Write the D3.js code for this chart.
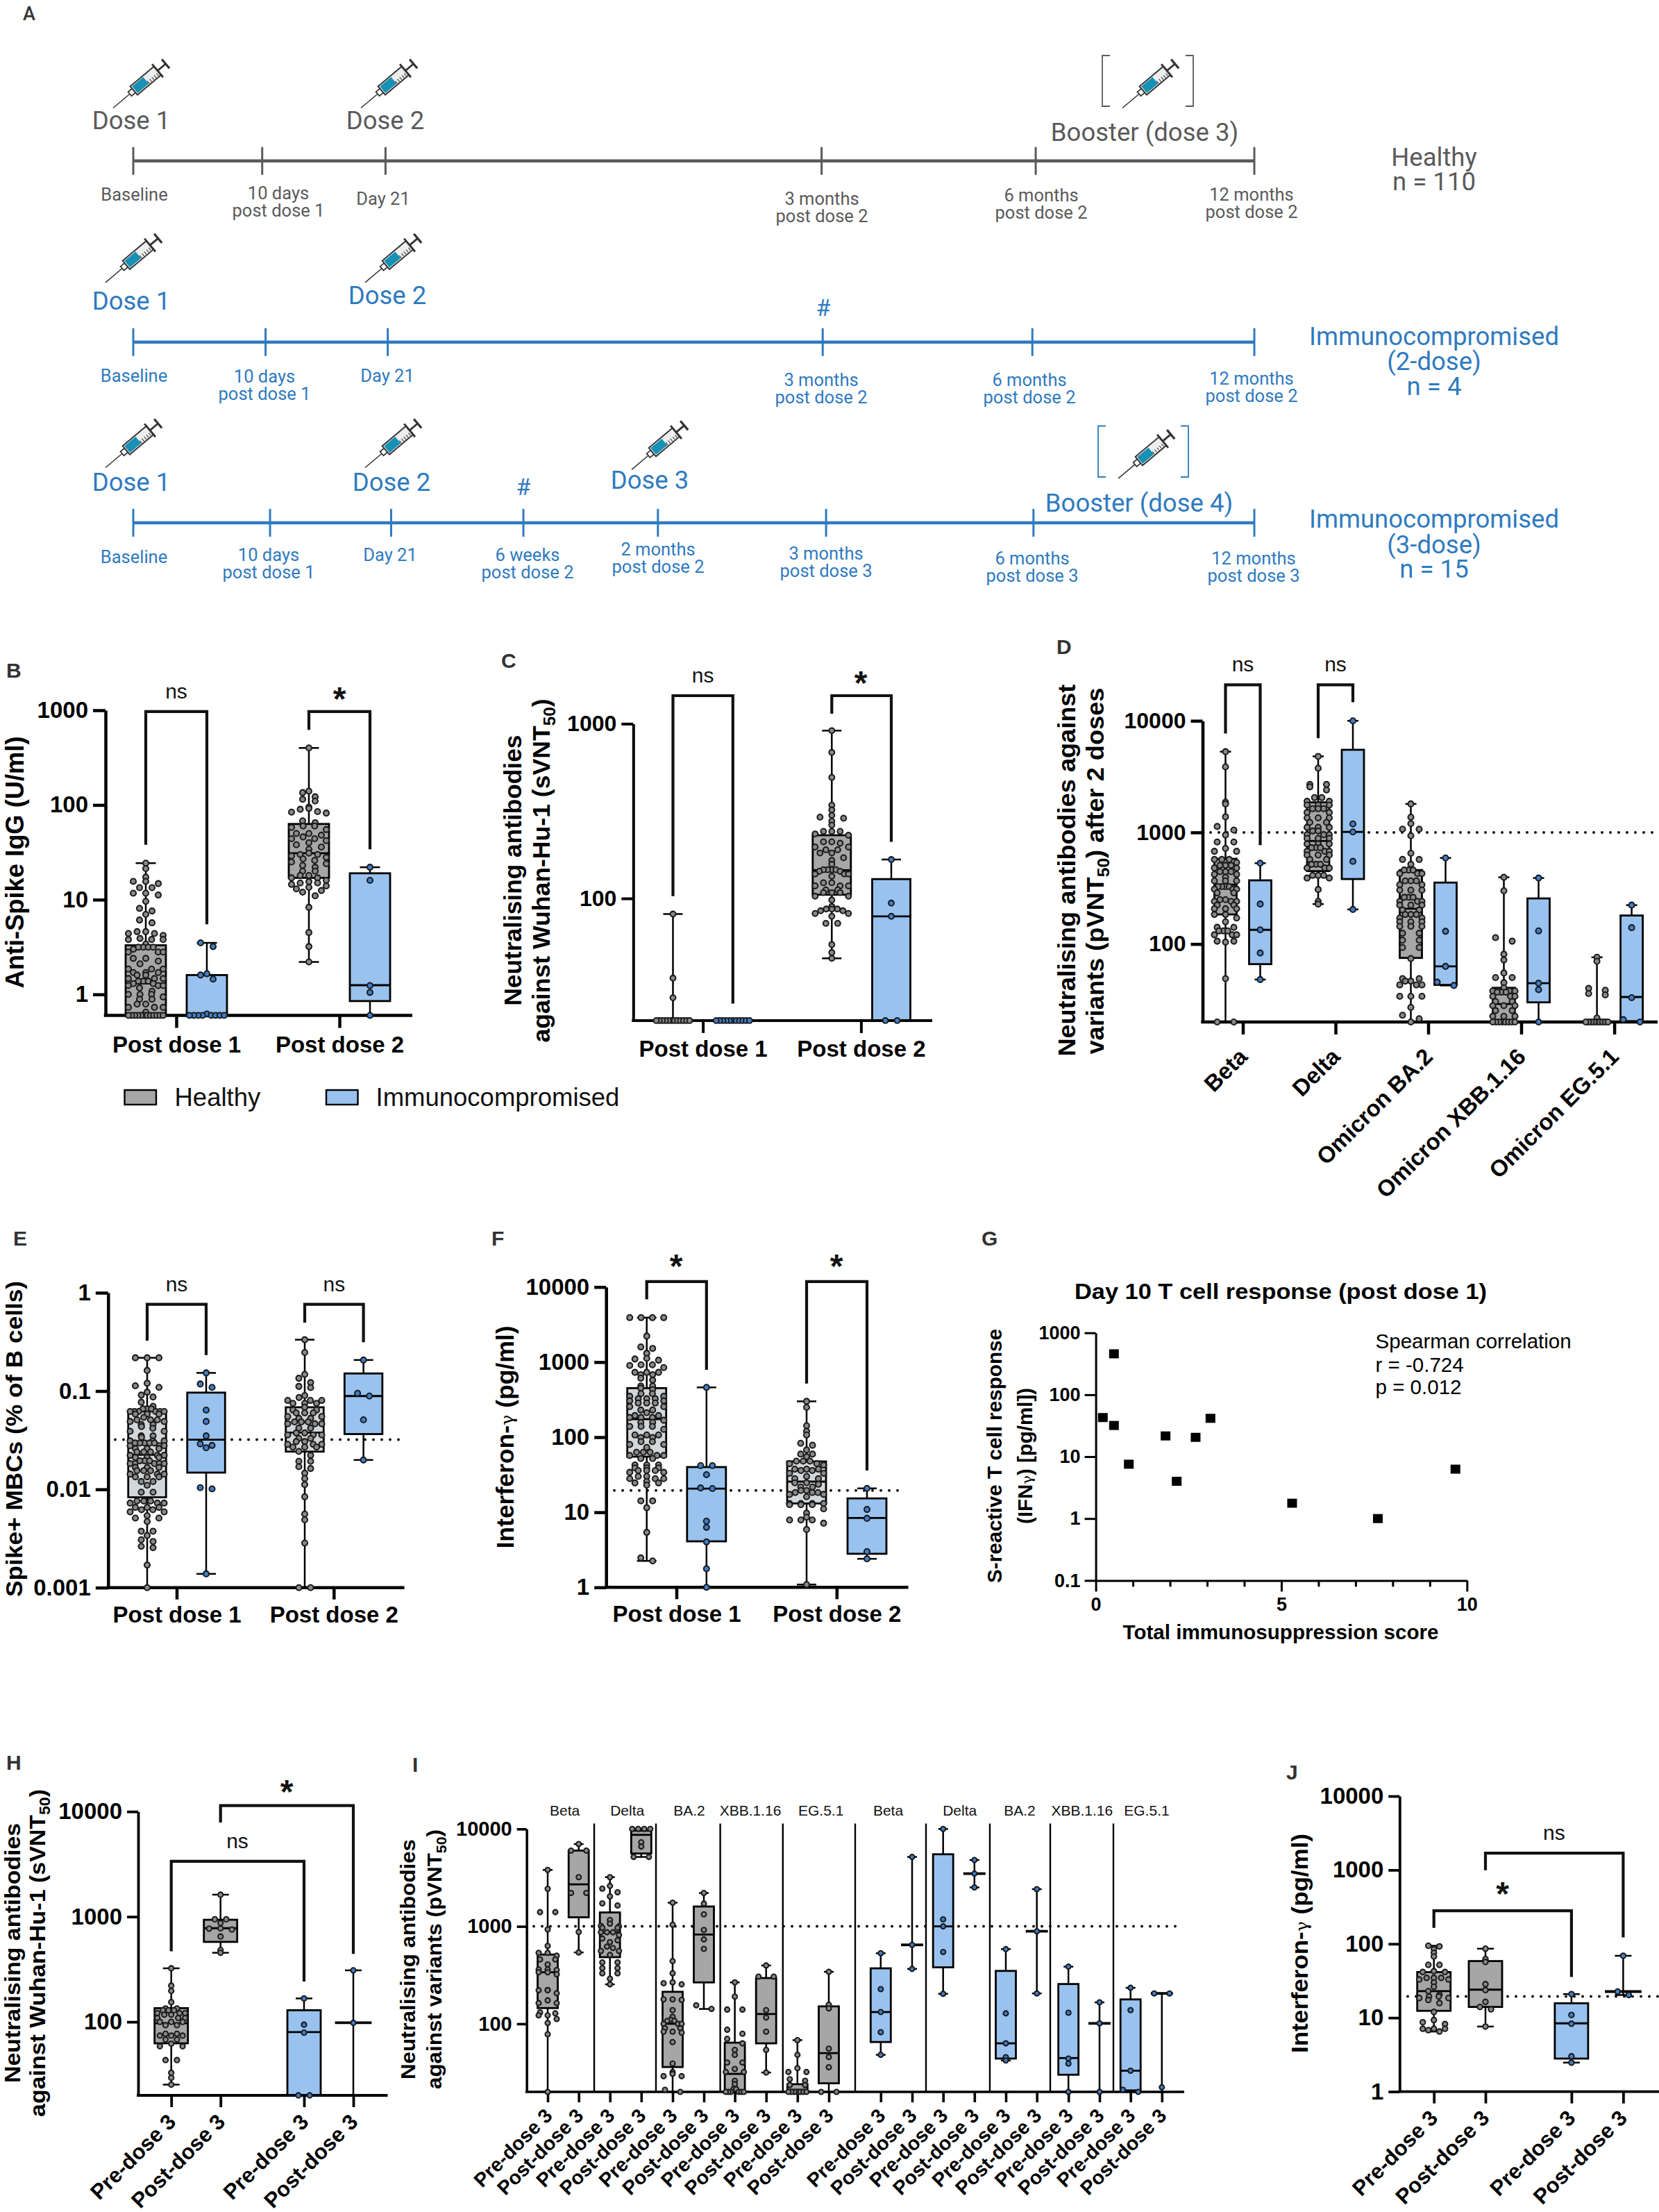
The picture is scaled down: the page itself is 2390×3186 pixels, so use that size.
<!DOCTYPE html>
<html><head><meta charset="utf-8">
<script src="https://cdn.jsdelivr.net/npm/d3@7"></script>
<style>html,body{margin:0;padding:0;background:#fff}svg{display:block}</style></head>
<body><svg id="c" width="2390" height="3186" xmlns="http://www.w3.org/2000/svg"></svg>
<script>
// ---------- DATA ----------
// Panel B: Anti-Spike IgG
const bH1=[24.3,21.3,17.3,15.6,15.6,14.8,13.4,13.4,11.7,11.7,11.2,9.6,8.1,7.6,7,6.1,5.7,4.6,4.6,4.4,4.4,4.2,3.9,3.8,3.8,3.8,3.4,3.15,3.15,3.15,3.15,3,2.8,2.8,2.8,2.4,2.4,2.25,2.1,1.85,1.85,1.85,1.7,1.7,1.7,1.6,1.6,1.47,1.47,1.47,1.38,1.38,1.38,1.3,1.3,1.24,1.24,1.24,1.17,1.08,1,1,1,.94,.89,.89,.79,.79,.73,.73,.73,.65,.6,.6,.6,.6,.6,.6,.6,.6,.6,.6,.6,.6];
const bI1=[3.5,3.2,1.65,1.6,1.45,.62,.6,.6,.6,.6,.6,.6,.6,.6];
const bH2=[400,140,135,122,115,110,95,92,90,85,84,82,68,65,60,60,58,55,50,50,48,46,44,44,42,40,38,36,34,31,30,30,29,28,27,26,25,24,23,22,20,20,18,18,17,17,16,15.5,15,15,14.5,14,13.5,13,12.5,12,11,8.3,4.5,3.2,2.2];
const bI2=[22,16,1.24,1.05,.6];
const bBoxes=[[.6,.6,1.3,3.3,24.3],[.6,.6,.6,1.6,3.5],[2.2,17,31,63,400],[.6,.85,1.25,19,22]];
// Panel C: sVNT50
const cH1=[81.4,35,27,20,20,20,20,20,20,20,20,20,20,20,20];
const cI1=[20,20,20,20,20,20,20,20,20,20,20];
const cH2=[913,685,493,342,321,299,292,288,277,263,242,242,242,234,230,211,211,207,197,197,190,190,182,182,171,165,157,146,146,146,146,143,143,138,138,138,134,123,123,118,118,118,112,112,108,108,108,103,103,98,90,87,87,87,85,85,82,82,79,72,72,54.4,49,45.4];
const cI2=[167,94,79,20,20];
const cBoxes=[[20,20,20,20,81.4],[20,20,20,20,20],[45.4,105,145,230,913],[20,20,79,129,167]];
// Panel D: pVNT50 after 2 doses
const dBetaH=[5290,3870,1870,1800,1380,1130,1050,948,820,820,719,677,677,572,572,572,538,507,507,507,480,480,445,445,445,421,421,397,368,368,368,327,327,327,327,310,310,310,287,287,250,250,241,241,241,223,223,207,207,207,184,184,171,158,141,141,131,131,131,121,121,121,106,106,104,49,20,20];
const dBetaI=[530,228,134,83,48];
const dDeltaH=[4800,3760,2690,2690,2560,2400,2050,2050,1900,1900,1760,1760,1760,1630,1630,1630,1510,1510,1350,1350,1350,1230,1230,1110,1110,1110,1030,1030,955,955,955,885,885,885,790,790,790,730,730,730,677,677,677,627,627,627,572,572,518,518,518,480,480,480,412,412,412,390,390,308,241,228];
const dDeltaI=[10000,1190,1010,550,204];
const dBa2H=[1800,1370,1200,1070,1070,933,650,572,572,518,460,460,460,428,428,428,368,368,368,340,340,304,304,304,262,262,262,241,241,241,223,223,223,202,202,184,184,184,171,171,158,158,158,144,144,144,125,125,108,108,93,93,74,49,49,46.5,46.5,43,43,43,34,34,34,27,23,21.4,20];
const dBa2I=[590,130,63,45.5,42.5];
const dXbbH=[396,300,114,106,81,72,55,50,50,45,40.5,38,38,38,38,37,37,37,34,34,34,30.5,30.5,28,28,28,25.3,25.3,22.5,22.5,22.5,20,20,20,20,20,20,20,20];
const dXbbI=[390,131,44.5,39,20];
const dEgH=[76,70,40,38.5,36,35,21.7,20,20,20,20,20,20,20,20,20];
const dEgI=[223,140,33,21,20];
const dBoxes=[[20,184,340,580,5290],[48,66,134,372,530],[228,450,838,1860,4800],[204,382,1010,5500,10000],[20,75,207,460,1800],[42.5,43,63,355,590],[20,20,29,40.5,396],[20,30,44.5,256,390],[20,20,20,20,76],[20,20.3,33.5,180,223]];
// Panel E: Spike+ MBCs
const eH1=[.218,.218,.218,.162,.12,.113,.109,.0975,.091,.087,.077,.07,.066,.066,.066,.062,.062,.062,.062,.062,.062,.0584,.0584,.0584,.054,.051,.051,.051,.049,.049,.0456,.0456,.0435,.0418,.039,.039,.035,.035,.0338,.0311,.0311,.0311,.0296,.0296,.0296,.0296,.0296,.0278,.0278,.0278,.026,.026,.026,.024,.024,.024,.0222,.0222,.0222,.0211,.0211,.0211,.0195,.0195,.0195,.0183,.0183,.0183,.0183,.0183,.0167,.0167,.0167,.0155,.0155,.0155,.0143,.0143,.0143,.0134,.0134,.0134,.012,.012,.011,.00935,.00935,.0076,.0076,.0076,.00725,.00725,.00725,.00655,.00655,.00655,.0062,.0062,.0059,.0059,.0054,.0051,.0051,.0047,.00375,.00375,.00339,.00307,.00295,.00263,.00255,.0017,.001];
const eI1=[.153,.118,.109,.064,.049,.035,.029,.028,.0265,.0104,.0101,.00138];
const eH2=[.333,.247,.148,.135,.122,.1115,.1086,.09,.086,.0803,.0803,.0803,.075,.075,.075,.0684,.0642,.0642,.06,.06,.06,.055,.055,.0528,.0528,.0486,.0486,.0486,.0465,.0465,.0465,.042,.042,.0375,.0375,.0358,.0358,.0358,.033,.033,.0306,.0306,.0287,.0287,.0287,.0269,.0269,.0269,.0243,.0222,.0193,.0193,.017,.0163,.0146,.0129,.0112,.0084,.0056,.0049,.00284,.001,.001];
const eI2=[.207,.095,.089,.051,.0199];
const eBoxes=[[.001,.0083,.0225,.062,.218],[.00138,.0148,.032,.0964,.153],[.001,.0242,.0378,.0684,.333],[.0199,.0365,.089,.151,.207]];
// Panel F: Interferon-gamma
const fH1=[3910,3910,3910,3910,2220,1590,1520,1310,1120,1100,1060,920,920,900,845,730,730,730,680,680,610,575,480,480,450,430,380,380,350,350,325,325,325,305,305,285,285,285,255,255,230,230,212,194,194,183,183,183,168,157,157,139,139,139,127,107,107,107,99,99,87,87,80,80,73,63,63,63,57,57,57,52,52,42.7,42.7,42.7,39,39,39,36,36,36,34,34,30,30,28,28,28,25.7,24.6,24.6,23,14.2,14.2,11.5,5.4,2.47,2.25];
const fI1=[460,41.8,41.8,31.7,21.1,20.7,7.6,6.3,4.03,1.77,1];
const fH2=[300,250,142,120,107,83,78,67.6,59.5,59.5,55,48,48,48,44.4,44.4,42.6,37.5,37.5,37.5,36,36,33,33,30,28,28,24.7,24.7,23.6,21.7,21.7,19.5,19.5,18.3,18.3,18.3,17.3,17.3,16.1,13.1,13.1,13.1,13.1,12.6,12.6,12.6,11.1,9.75,8.6,7.9,7.9,7.9,7.15,5.9,1.09];
const fI2=[20.8,10.9,8.3,3,2.4];
const fBoxes=[[2.25,55,174,450,3910],[1,4.1,20.6,40,460],[1.09,13.1,25.6,47.5,300],[2.4,2.8,8.4,15.3,20.8]];
// Panel G: scatter
const gScore=[.19,.49,.49,.89,1.88,2.18,2.69,3.09,5.29,7.6,9.69];
const gIfn=[42.8,458,31.9,7.55,21.6,4,20.5,41.6,1.77,1,6.28];
// Panel H
const hH1=[323,221,197,154,134,134,129,129,129,121,121,121,117,117,109,109,109,100,100,100,93,93,77,77,74,74,74,68,68,62,58.6,58.6,43.3,43.3,32.8,29.4,25.3];
const hH2=[1620,945,945,870,775,770,755,648,482,454];
const hI1=[167,94,79,20,20];
const hI2=[309,98];
const hBoxes=[[25.3,62.5,97,135,323],[454,576,777,935,1620],[20,20,80,129,167],[20,98,98,98,309]];
// Panel I
const iBetaPreH=[3800,2430,1400,1400,930,630,535,535,500,458,458,406,361,361,356,338,338,322,222,221,221,206,174,163,163,131,128,122,122,112,102,78,20];
const iBetaPostH=[7000,6000,6000,3200,2200,2200,875,540];
const iDeltaPreH=[3200,2600,2440,2240,2030,1720,1640,1160,1065,1010,1000,965,965,870,870,870,814,750,720,690,620,600,560,560,510,427,427,373,373,330,330,290,254];
const iDeltaPostH=[10000,10000,10000,10000,7300,6600,5160,5160];
const iBa2PreH=[1750,1040,440,330,266,261,254,178,178,176,138,118,110,107,107,100,100,100,90,90,83,83,81,65,39,32,30.6,29,29,21,20];
const iBa2PostH=[2200,1710,1330,920,735,588,155,142];
const iXbbPreH=[266,190,140,140,87,79,70,63,54,48,40,40,34.4,32,32,26,24,21.4,21.4,20,20,20,20,20,20];
const iXbbPostH=[397,305,305,138,116,83,54,31.6];
const iEgPreH=[68,48,35,32,32,27,26,23.5,23.5,20,20,20,20,20,20,20];
const iEgPostH=[342,157,144,55.5,45.6,35.8,20,20];
const iBetaPreI=[530,227,132,82,48];
const iBetaPostI=[5160,646,366];
const iDeltaPreI=[10000,1180,1000,546,203];
const iDeltaPostI=[4800,3480,2510];
const iBa2PreI=[584,128,63,45.4,42];
const iBa2PostI=[2410,890,205];
const iXbbPreI=[386,130,44,39,20];
const iXbbPostI=[166,101,20];
const iEgPreI=[234,138,33,21,20];
const iEgPostI=[205,205,22.3];
const iBoxes=[[20,145,338,514,3800],[540,1240,2700,6000,7000],[254,483,870,1390,3200],[5160,5600,8700,9600,10000],[20,36,100,213,1750],[142,266,825,1600,2200],[20,20,30.6,64,266],[31.6,63,126,295,397],[20,20,21,24,68],[20,24.5,50,151,342],
 [48,65,132,371,530],[366,646,646,646,5160],[203,380,1000,5500,10000],[2510,3480,3480,3480,4800],[42,44,63,349,584],[205,890,890,890,2410],[20,30,44.5,256,386],[20,101,101,101,166],[20,20.7,33,178,234],[20,205,205,205,205]];
const iVariants=['Beta','Delta','BA.2','XBB.1.16','EG.5.1','Beta','Delta','BA.2','XBB.1.16','EG.5.1'];
// Panel J
const jH1=[94.3,92.5,85,75.6,67.6,52,52,42.7,41.6,41.6,34.6,34.6,34.6,33,33,30,26.3,22.9,20.5,19.4,19.4,18.5,18.5,17.4,15.8,12,9.3,8.7,8.2,7.1,7.1,7.1,6.8,6.5];
const jH2=[86,62.3,56.9,28.5,23.7,16.4,14,13,7.6];
const jI1=[20.9,10.9,8.3,3,2.47];
const jI2=[69,22.6,20.3];
const jBoxes=[[6.5,12.4,22.9,41.5,94.3],[7.6,14,24,58.5,86],[2.47,2.8,8.4,15.7,20.9],[20.3,22.6,22.6,22.6,69]];
// Shared axis labels
const postDoseLabels=['Post dose 1','Post dose 2'];
const dVariantLabels=['Beta','Delta','Omicron BA.2','Omicron XBB.1.16','Omicron EG.5.1'];
const prePost=['Pre-dose 3','Post-dose 3'];
const legendLabels=['Healthy','Immunocompromised'];
// Timeline points (schematic units 0-100 along the 12-month bar)
const tlRow1=[0,11.5,22.5,61.4,80.5,100];
const tlRow2=[0,11.8,22.7,61.5,80.2,100];
const tlRow3=[0,12.2,23,34.8,46.8,61.8,80.3,100];

// ---------- DRAWING ----------
const svg=d3.select('#c');
const SANS='"Liberation Sans",Arial,sans-serif', ROB='Roboto,sans-serif';
const COL={H:{box:'#a6a6a6',dot:'#8a8a8a'},L:{box:'#d4d7da',dot:'#8a8a8a'},I:{box:'#99c2ee',dot:'#3f7fcf'}};

function swarm(vals,y,o){
  const bins=d3.groups(vals,v=>Math.round(y(v)/o.bin));
  const out=[];
  bins.forEach(([k,arr])=>{
    const n=arr.length, s=n>1?Math.min(2*o.step,2*o.max/(n-1)):0, offs=[];
    if(n%2){offs.push(0);for(let i=1;i<=(n-1)/2;i++){offs.push(-i*s);offs.push(i*s);}}
    else for(let i=1;i<=n/2;i++){offs.push(-(i-.5)*s);offs.push((i-.5)*s);}
    arr.forEach((v,i)=>out.push({v,off:offs[i]}));
  });
  return out;
}
function sub(t,parts,size){ // parts: plain text pieces, subscripts as {s:'50'}
  let pend=0;
  parts.forEach(p=>{
    if(typeof p==='string'){const ts=t.append('tspan').text(p); if(pend){ts.attr('dy',pend);pend=0;}}
    else if(p.s){t.append('tspan').attr('font-size',size*.68).attr('dy',size*.22).text(p.s); pend=-size*.22;}
    else if(p.g) t.append('tspan').attr('font-weight','400').attr('font-family','"DejaVu Serif",serif').attr('font-size',size*.72).text(p.g);
  });
}
function yLabel(parts,bx,cy,size,len){
  const t=svg.append('text').attr('transform',`translate(${bx},${cy}) rotate(-90)`).attr('text-anchor','middle')
    .attr('font-family',SANS).attr('font-weight','700').attr('font-size',size).attr('fill','#000');
  sub(t,parts,size);
  if(len) t.attr('textLength',len).attr('lengthAdjust','spacingAndGlyphs');
}
function letter(s,x,y){svg.append('text').attr('x',x).attr('y',y).attr('font-family',SANS).attr('font-weight','700').attr('font-size',30).attr('fill','#333').text(s);}

function panel(p){
  const y=d3.scaleLog().domain([p.floor,p.top]).range([p.yFloor,p.yTop]);
  const x=d3.scaleOrdinal().domain(p.ids).range(p.xs);
  const tx=d3.scaleOrdinal().domain(p.tickIds).range(p.tickXs);
  const g=svg.append('g');
  // dotted reference
  if(p.ref) g.append('line').attr('x1',p.ref[1]).attr('x2',p.ref[2]).attr('y1',y(p.ref[0])).attr('y2',y(p.ref[0]))
    .attr('stroke','#111').attr('stroke-width',4).attr('stroke-linecap','round').attr('stroke-dasharray',`0 ${p.refGap||12}`);
  // boxes
  p.ids.forEach((id,i)=>{
    const c=COL[p.kinds[i]], b=p.boxes[i], cx=x(id), w=p.boxW, sw=p.boxSW||2.8;
    const bg=g.append('g').attr('stroke','#000').attr('fill','none');
    bg.append('line').attr('x1',cx).attr('x2',cx).attr('y1',y(b[0])).attr('y2',y(b[4])).attr('stroke-width',2.5);
    [b[0],b[4]].forEach(v=>bg.append('line').attr('x1',cx-p.cap).attr('x2',cx+p.cap).attr('y1',y(v)).attr('y2',y(v)).attr('stroke-width',2.5));
    if(b[1]===b[3]){
      if(b[2]!==p.floor) bg.append('line').attr('x1',cx-w*.55).attr('x2',cx+w*.55).attr('y1',y(b[2])).attr('y2',y(b[2])).attr('stroke-width',3.8);
    } else {
      bg.append('rect').attr('x',cx-w/2).attr('width',w).attr('y',y(b[3])).attr('height',y(b[1])-y(b[3])).attr('fill',c.box).attr('stroke-width',sw);
      bg.append('line').attr('x1',cx-w/2).attr('x2',cx+w/2).attr('y1',y(b[2])).attr('y2',y(b[2])).attr('stroke-width',sw);
    }
  });
  // axes
  const sw=p.axisSW;
  const ya=g.append('g').attr('transform',`translate(${p.axisX},0)`)
    .call(d3.axisLeft(y).tickValues(p.yTicks).tickFormat(d=>String(d)).tickSize(p.tickL).tickSizeOuter(0).tickPadding(p.tickPad||7));
  ya.select('.domain').attr('stroke','#000').attr('stroke-width',sw);
  ya.selectAll('.tick line').attr('stroke','#000').attr('stroke-width',sw);
  ya.selectAll('text').attr('font-family',SANS).attr('font-weight','700').attr('font-size',p.tickFont).attr('fill','#000');
  g.append('line').attr('x1',p.axisX-sw/2).attr('x2',p.xEnd).attr('y1',p.yFloor).attr('y2',p.yFloor).attr('stroke','#000').attr('stroke-width',sw);
  const xa=g.append('g').attr('transform',`translate(0,${p.yFloor})`)
    .call(d3.axisBottom(tx).tickValues(p.tickIds).tickFormat((d,i)=>p.tickLabels[i]).tickSize(p.xTickL).tickSizeOuter(0));
  xa.select('.domain').remove();
  xa.selectAll('.tick line').attr('stroke','#000').attr('stroke-width',sw);
  const xt=xa.selectAll('text').attr('font-family',SANS).attr('font-weight','700').attr('font-size',p.xFont).attr('fill','#000');
  if(p.rot){
    xt.attr('text-anchor','end').attr('y',0).attr('dy',0).attr('transform',`translate(${p.rot[0]},${p.rot[1]}) rotate(-45)`);
  } else xt.attr('y',p.xBase).attr('dy',0);
  // dots
  p.ids.forEach((id,i)=>{
    const c=COL[p.kinds[i]];
    g.append('g').selectAll('circle').data(swarm(p.series[i],y,p.swarm)).join('circle')
      .attr('cx',d=>x(id)+d.off).attr('cy',d=>y(d.v)).attr('r',p.r).attr('fill',c.dot).attr('stroke','#1c1c1c').attr('stroke-width',2.1);
  });
  // significance brackets (from, to, left end value, right end value, top value, text)
  (p.brackets||[]).forEach(b=>{
    const xl=x(b[0]),xr=x(b[1]);
    g.append('path').attr('d',`M${xl},${y(b[2])}V${y(b[4])}H${xr}V${y(b[3])}`).attr('fill','none').attr('stroke','#111').attr('stroke-width',p.brSW||4.2);
    const lx=b[6]!==undefined?b[6]:(xl+xr)/2;
    if(b[5]==='ns') g.append('text').attr('x',lx).attr('y',y(b[4])-(b[7]||19)).attr('text-anchor','middle').attr('font-family',SANS).attr('font-size',30).attr('fill','#111').text('ns');
    else g.append('text').attr('x',lx).attr('y',y(b[4])+(b[7]||0)).attr('text-anchor','middle').attr('font-family',SANS).attr('font-weight','700').attr('font-size',48).attr('fill','#111').text('*');
  });
}

// B
panel({ids:['H1','I1','H2','I2'],xs:[210,298,445,533],kinds:['H','I','H','I'],series:[bH1,bI1,bH2,bI2],boxes:bBoxes,
 tickIds:['a','b'],tickXs:[254,489],tickLabels:postDoseLabels,floor:.6,top:1000,yFloor:1462.5,yTop:1023,axisX:152,xEnd:594,yTicks:[1,10,100,1000],
 tickL:18,tickFont:33,axisSW:4.5,xTickL:18,xFont:33,xBase:53,boxW:58,cap:14.5,r:4,swarm:{bin:8,step:9,max:25},
 brackets:[['H1','I1',38,5.5,970,'ns'],['H2','I2',620,34,970,'*',489,-2]]});
// C
panel({ids:['H1','I1','H2','I2'],xs:[969.5,1055.8,1198.3,1284],kinds:['H','I','H','I'],series:[cH1,cI1,cH2,cI2],boxes:cBoxes,
 tickIds:['a','b'],tickXs:[1012.6,1240.4],tickLabels:postDoseLabels,floor:20,top:1000,yFloor:1469.9,yTop:1042.4,axisX:912.3,xEnd:1343,yTicks:[100,1000],
 tickL:17,tickFont:32,axisSW:4,xTickL:18,xFont:33,xBase:52,boxW:55,cap:14,r:3.9,swarm:{bin:8,step:8.5,max:24},
 brackets:[['H1','I1',103,25,1447,'ns'],['H2','I2',1140,211,1447,'*',1240,-2]]});
// D
panel({ids:['a0','a1','b0','b1','c0','c1','d0','d1','e0','e1'],xs:[1765.5,1815.5,1899,1949,2032.5,2082.5,2166.5,2216.5,2300.6,2350.6],kinds:['H','I','H','I','H','I','H','I','H','I'],
 series:[dBetaH,dBetaI,dDeltaH,dDeltaI,dBa2H,dBa2I,dXbbH,dXbbI,dEgH,dEgI],boxes:dBoxes,
 tickIds:['p','q','r','s','t'],tickXs:[1790.5,1924,2057.5,2191.5,2325.6],tickLabels:dVariantLabels,floor:20,top:10000,yFloor:1472,yTop:1038.2,axisX:1732.5,xEnd:2388,yTicks:[100,1000,10000],
 tickL:17,tickFont:32,axisSW:4.5,xTickL:18,xFont:33,rot:[8,52],boxW:32,cap:8,r:4,swarm:{bin:8,step:12,max:16},ref:[1000,1744,2388],
 brackets:[['a0','a1',7700,770,21000,'ns'],['b0','b1',6980,14650,21000,'ns']]});
// E
panel({ids:['H1','I1','H2','I2'],xs:[212,297,439,523.6],kinds:['L','I','L','I'],series:[eH1,eI1,eH2,eI2],boxes:eBoxes,
 tickIds:['a','b'],tickXs:[254.5,480.8],tickLabels:postDoseLabels,floor:.001,top:1,yFloor:2286.7,yTop:1862,axisX:155.8,xEnd:582.6,yTicks:[.001,.01,.1,1],
 tickL:18,tickFont:33,axisSW:4.5,xTickL:17,xFont:33,xBase:50,boxW:54.5,cap:14,r:4,swarm:{bin:7,step:8.5,max:24.5},ref:[.032,166,579],
 brackets:[['H1','I1',.326,.232,.763,'ns'],['H2','I2',.496,.314,.763,'ns']]});
// F
panel({ids:['H1','I1','H2','I2'],xs:[931.7,1017.8,1162,1249],kinds:['L','I','L','I'],series:[fH1,fI1,fH2,fI2],boxes:fBoxes,
 tickIds:['a','b'],tickXs:[974.5,1205.3],tickLabels:postDoseLabels,floor:1,top:10000,yFloor:2286.3,yTop:1853.7,axisX:873.2,xEnd:1308.5,yTicks:[1,10,100,1000,10000],
 tickL:17,tickFont:33,axisSW:4.5,xTickL:17,xFont:33,xBase:50,boxW:56,cap:14,r:4,swarm:{bin:7,step:8.5,max:24.5},ref:[19.5,885,1305],
 brackets:[['H1','I1',6830,790,11800,'*',974,-6],['H2','I2',518,36,11800,'*',1205,-6]]});
// H
panel({ids:['H1','H2','I1','I2'],xs:[246.7,317.7,438,509],kinds:['H','H','I','I'],series:[hH1,hH2,hI1,hI2],boxes:hBoxes,
 tickIds:['H1','H2','I1','I2'],tickXs:[246.7,317.7,438,509],tickLabels:[prePost[0],prePost[1],prePost[0],prePost[1]],floor:20,top:10000,yFloor:3018,yTop:2609.2,axisX:199,xEnd:558.5,yTicks:[100,1000,10000],
 tickL:16,tickFont:33,axisSW:3.8,xTickL:17,xFont:31,rot:[8,40],boxW:48,cap:12,r:3.6,swarm:{bin:7,step:8.2,max:20},
 brackets:[['H1','I1',469,242,3365,'ns',342],['H2','I2',7850,443,11380,'*',413,-4]]});
// I
const iIds=d3.range(20).map(i=>'k'+i);
const iXs=[789,833.7,878.7,923.8,969,1014,1058.6,1103.7,1148.8,1194,1268.8,1314,1358.7,1403.8,1449,1493.7,1539.2,1584,1628.7,1673.8];
panel({ids:iIds,xs:iXs,kinds:iIds.map((d,i)=>i<10?'H':'I'),
 series:[iBetaPreH,iBetaPostH,iDeltaPreH,iDeltaPostH,iBa2PreH,iBa2PostH,iXbbPreH,iXbbPostH,iEgPreH,iEgPostH,iBetaPreI,iBetaPostI,iDeltaPreI,iDeltaPostI,iBa2PreI,iBa2PostI,iXbbPreI,iXbbPostI,iEgPreI,iEgPostI],boxes:iBoxes,
 tickIds:iIds,tickXs:iXs,tickLabels:iIds.map((d,i)=>prePost[i%2]),floor:20,top:10000,yFloor:3013,yTop:2634.3,axisX:758.7,xEnd:1706,yTicks:[100,1000,10000],
 tickL:14,tickFont:29,axisSW:3.6,xTickL:15,xFont:28.5,rot:[8,36],boxW:29,cap:7,r:3.5,swarm:{bin:7,step:11,max:13},ref:[1000,769,1703]});
// J
panel({ids:['H1','H2','I1','I2'],xs:[2065.7,2140,2263.9,2338.4],kinds:['H','H','I','I'],series:[jH1,jH2,jI1,jI2],boxes:jBoxes,
 tickIds:['H1','H2','I1','I2'],tickXs:[2065.7,2140,2263.9,2338.4],tickLabels:[prePost[0],prePost[1],prePost[0],prePost[1]],floor:1,top:10000,yFloor:3012.6,yTop:2587,axisX:2016.3,xEnd:2390,yTicks:[1,10,100,1000,10000],
 tickL:16,tickFont:33,axisSW:3.8,xTickL:17,xFont:31,rot:[7,40],boxW:48,cap:12,r:3.7,swarm:{bin:7,step:8,max:21},ref:[19.4,2028,2390],
 brackets:[['H1','I1',165,35.6,281,'*',2164.6,-8],['H2','I2',990,122,1690,'ns',2238.8]]});

// I dividers and variant titles
const iDiv=d3.scaleOrdinal().domain(d3.range(10)).range([856,945,1037.6,1127.8,1232,1334,1426,1513,1604,0]);
d3.range(9).forEach(i=>svg.append('line').attr('x1',iDiv(i)).attr('x2',iDiv(i)).attr('y1',2626.5).attr('y2',3013).attr('stroke','#000').attr('stroke-width',2.4));
const iVarX=[813.6,903.7,993,1081,1182.7,1279.5,1382.7,1469,1558.8,1652];
iVariants.forEach((v,i)=>svg.append('text').attr('x',iVarX[i]).attr('y',2615).attr('text-anchor','middle').attr('font-family',SANS).attr('font-size',21).attr('fill','#111').text(v));

// G scatter
(function(){
  const x=d3.scaleLinear().domain([0,10]).range([1578.6,2113.3]);
  const y=d3.scaleLog().domain([.1,1000]).range([2276.4,1919.7]);
  const g=svg.append('g');
  const ya=g.append('g').attr('transform','translate(1578.6,0)').call(d3.axisLeft(y).tickValues([.1,1,10,100,1000]).tickFormat(d=>String(d)).tickSize(16).tickSizeOuter(0).tickPadding(6));
  const xa=g.append('g').attr('transform','translate(0,2276.4)').call(d3.axisBottom(x).tickValues(d3.range(0,11)).tickFormat(d=>d%5===0?d:'').tickSize(9).tickSizeOuter(0).tickPadding(10));
  [ya,xa].forEach(a=>{a.select('.domain').attr('stroke','#000').attr('stroke-width',3);a.selectAll('.tick line').attr('stroke','#000').attr('stroke-width',3);
    a.selectAll('text').attr('font-family',SANS).attr('font-weight','700').attr('font-size',27).attr('fill','#000');});
  xa.selectAll('.tick').filter(d=>d%5===0).select('line').attr('y2',16);
  xa.selectAll('text').attr('y',44).attr('dy',0);
  xa.selectAll('.tick').filter(d=>d%5!==0).select('text').remove();
  g.selectAll('rect.pt').data(gScore).join('rect').attr('class','pt').attr('x',d=>x(d)-7).attr('y',(d,i)=>y(gIfn[i])-6.5).attr('width',14).attr('height',13).attr('fill','#000');
  const T=(s,tx,ty,o={})=>g.append('text').attr('x',tx).attr('y',ty).attr('font-family',SANS).attr('font-weight',o.w||700).attr('font-size',o.s||30).attr('text-anchor',o.a||'start').attr('fill','#000').text(s);
  T('Day 10 T cell response (post dose 1)',1845,1870.7,{a:'middle',s:32}).attr('textLength',594).attr('lengthAdjust','spacingAndGlyphs');
  T('Total immunosuppression score',1845,2361,{a:'middle',s:29}).attr('textLength',455).attr('lengthAdjust','spacingAndGlyphs');
  T('Spearman correlation',1981.6,1941.9,{w:400,s:29.5});
  T('r = -0.724',1981.6,1975.5,{w:400,s:29.5});
  T('p = 0.012',1981.6,2008.3,{w:400,s:29.5});
})();

// Y labels
yLabel(['Anti-Spike IgG (U/ml)'],33.5,1242,36,363);
yLabel(['Neutralising antibodies'],751,1253.6,35,390);
yLabel(['against Wuhan-Hu-1 (sVNT',{s:'50'},')'],792,1254,35,495);
yLabel(['Neutralising antibodies against'],1548.5,1253.6,35,536);
yLabel(['variants (pVNT',{s:'50'},') after 2 doses'],1590,1254.6,35,528);
yLabel(['Spike+ MBCs (% of B cells)'],32,2072.4,34,455);
yLabel(['Interferon-',{g:'\u03b3'},' (pg/ml)'],740,2070,35,321);
yLabel(['S-reactive T cell response'],1443.4,2097,29,366);
yLabel(['(IFN',{g:'\u03b3'},') [pg/ml])'],1486.7,2097,29,196);
yLabel(['Neutralising antibodies'],29,2813,32,374);
yLabel(['against Wuhan-Hu-1 (sVNT',{s:'50'},')'],65,2813,32,472);
yLabel(['Neutralising antibodies'],598,2822,30,346);
yLabel(['against variants (pVNT',{s:'50'},')'],636,2822,30,374);
yLabel(['Interferon-',{g:'\u03b3'},' (pg/ml)'],1883.6,2799,33,316);

// panel letters
[['B',9,976],['C',722,962],['D',1522,942],['E',19,1794],['F',708,1794],['G',1414,1794],['H',9,2549],['I',594,2552],['J',1853,2563]].forEach(d=>letter(...d));
svg.append('text').attr('x',33).attr('y',29).attr('font-family',ROB).attr('font-weight','500').attr('font-size',27).attr('fill','#333').text('A');

// Legend
legendLabels.forEach((s,i)=>{
  const bx=[179.5,470][i], tx=[251.5,541.5][i];
  svg.append('rect').attr('x',bx).attr('y',1570).attr('width',45.5).attr('height',21).attr('fill',i?COL.I.box:COL.H.box).attr('stroke','#000').attr('stroke-width',2.4);
  svg.append('text').attr('x',tx).attr('y',1593).attr('font-family',SANS).attr('font-size',36.5).attr('fill','#111').text(s);
});

// ---------- Panel A: timelines ----------
const GREYT='#5a5a5a', BLUET='#2f7abf';
const tl=d3.scaleLinear().domain([0,100]).range([192,1807]);
function syringe(tipX,tipY){
  const s=svg.append('g').attr('transform',`translate(${tipX},${tipY}) rotate(-40) scale(.95)`);
  s.append('line').attr('x1',0).attr('x2',34).attr('y1',0).attr('y2',0).attr('stroke','#333').attr('stroke-width',1.6);
  s.append('rect').attr('x',33).attr('y',-4).attr('width',8).attr('height',8).attr('fill','#fff').attr('stroke','#333').attr('stroke-width',1.8);
  s.append('rect').attr('x',41).attr('y',-8.5).attr('width',47).attr('height',17).attr('fill','#eee').attr('stroke','#333').attr('stroke-width',2);
  s.append('rect').attr('x',43).attr('y',-6.5).attr('width',22).attr('height',13).attr('fill','#1690b4');
  d3.range(5).forEach(i=>s.append('line').attr('x1',66+i*4.5).attr('x2',66+i*4.5).attr('y1',2).attr('y2',7).attr('stroke','#444').attr('stroke-width',1.2));
  s.append('line').attr('x1',88).attr('x2',88).attr('y1',-13).attr('y2',13).attr('stroke','#333').attr('stroke-width',3);
  s.append('line').attr('x1',88).attr('x2',104).attr('y1',0).attr('y2',0).attr('stroke','#333').attr('stroke-width',3);
  s.append('line').attr('x1',104).attr('x2',104).attr('y1',-9).attr('y2',9).attr('stroke','#333').attr('stroke-width',3.4);
}
function sqBracket(x0,x1,y0,y1,c){
  const w=11;
  svg.append('path').attr('d',`M${x0+w},${y0}H${x0}V${y1}H${x0+w}M${x1-w},${y0}H${x1}V${y1}H${x1-w}`).attr('fill','none').attr('stroke',c).attr('stroke-width',1.8);
}
function row(points,yLine,c,tickH,lineW){
  const g=svg.append('g');
  g.append('line').attr('x1',tl(0)).attr('x2',tl(100)).attr('y1',yLine).attr('y2',yLine).attr('stroke',c).attr('stroke-width',lineW);
  g.selectAll('line.t').data(points).join('line').attr('class','t').attr('x1',d=>tl(d)).attr('x2',d=>tl(d)).attr('y1',yLine-tickH).attr('y2',yLine+tickH).attr('stroke',c).attr('stroke-width',3);
}
function ttext(s,x,y,size,c,w){svg.append('text').attr('x',x).attr('y',y).attr('text-anchor','middle').attr('font-family',ROB).attr('font-size',size).attr('font-weight',w||400).attr('fill',c).text(s);}
function small(lines,x,y,c){
  const t=svg.append('text').attr('text-anchor','middle').attr('font-family',ROB).attr('font-size',25.5).attr('fill',c);
  lines.forEach((s,i)=>t.append('tspan').attr('x',x).attr('y',y+i*25.4).text(s));
}
function side(lines,x,ys,c){
  const t=svg.append('text').attr('text-anchor','middle').attr('font-family',ROB).attr('font-size',36.5).attr('fill',c);
  lines.forEach((s,i)=>t.append('tspan').attr('x',x).attr('y',ys[i]).text(s));
}

row(tlRow1,231.8,GREYT,20,4.4);
row(tlRow2,492.7,BLUET,20,4.4);
row(tlRow3,753,BLUET,20,4.4);
[[163,155.5],[520,155.5],[1617,155.5],[152,406.8],[526,406.8],[152,673.5],[526,673.5],[910,676.3]].forEach(d=>syringe(d[0],d[1]));
syringe(1611,689.2);
sqBracket(1588,1719,80,153,GREYT);
sqBracket(1582,1712,613.5,687,BLUET);
// row 1 text
ttext('Dose 1',189,186,36.5,GREYT);ttext('Dose 2',555,186,36.5,GREYT);ttext('Booster (dose 3)',1649,203,36.5,GREYT);
small(['Baseline'],193.5,289,GREYT);small(['10 days','post dose 1'],401,287,GREYT);small(['Day 21'],552,294.6,GREYT);
small(['3 months','post dose 2'],1184,294.6,GREYT);small(['6 months','post dose 2'],1500,289.6,GREYT);small(['12 months','post dose 2'],1803,289,GREYT);
side(['Healthy','n = 110'],2066,[238.5,274],GREYT);
// row 2 text
ttext('Dose 1',189,446,36.5,BLUET);ttext('Dose 2',558,437.7,36.5,BLUET);ttext('#',1186,454.6,34,BLUET);
small(['Baseline'],193,550,BLUET);small(['10 days','post dose 1'],381,551,BLUET);small(['Day 21'],558,550,BLUET);
small(['3 months','post dose 2'],1183,555.6,BLUET);small(['6 months','post dose 2'],1483,555.6,BLUET);small(['12 months','post dose 2'],1803,554,BLUET);
side(['Immunocompromised','(2-dose)','n = 4'],2066,[496.7,533,568.5],BLUET);
// row 3 text
ttext('Dose 1',189,707,36.5,BLUET);ttext('Dose 2',564,707,36.5,BLUET);ttext('Dose 3',936,704,36.5,BLUET);ttext('#',754,712.7,34,BLUET);ttext('Booster (dose 4)',1641,737,36.5,BLUET);
small(['Baseline'],193,811,BLUET);small(['10 days','post dose 1'],387,808,BLUET);small(['Day 21'],562,808,BLUET);small(['6 weeks','post dose 2'],760,808,BLUET);
small(['2 months','post dose 2'],948,800,BLUET);small(['3 months','post dose 3'],1190,806,BLUET);small(['6 months','post dose 3'],1487,812.6,BLUET);small(['12 months','post dose 3'],1806,812.6,BLUET);
side(['Immunocompromised','(3-dose)','n = 15'],2066,[760.4,797,832],BLUET);
</script></body></html>
